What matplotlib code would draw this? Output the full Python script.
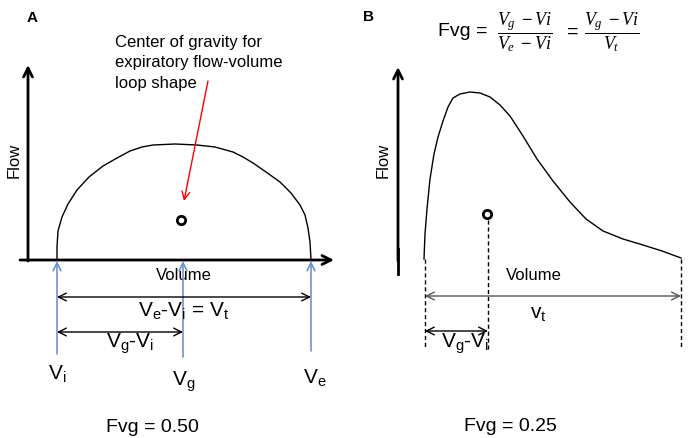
import matplotlib.pyplot as plt

plt.rcParams['font.family'] = ['Liberation Sans', 'DejaVu Sans']
plt.rcParams['mathtext.fontset'] = 'custom'
plt.rcParams['mathtext.rm'] = 'Liberation Sans'
plt.rcParams['mathtext.it'] = 'Liberation Serif:italic'

# loop outlines (pixel space)
loop_a_x = [57, 57, 58, 62, 68, 77, 89, 103, 117, 130, 142, 153, 175, 197, 215, 233, 243, 253, 266, 280, 291, 300, 305, 308, 310, 311]
loop_a_y = [261, 248, 232, 218, 205, 191, 178, 167, 159, 152, 148, 146, 145, 146, 148, 153, 158, 164, 173, 183, 194, 206, 216, 229, 243, 261]
loop_b_x = [424, 425, 427, 430, 434, 438, 443, 448, 453, 460, 470, 480, 490, 500, 510, 523, 537, 553, 570, 586, 603, 623, 643, 662, 681]
loop_b_y = [260, 235, 210, 180, 155, 138, 122, 108, 99, 95, 93, 94, 98, 106, 117, 137, 160, 182, 203, 220, 232, 240, 246, 252, 259]

# volume markers
vol_a = {'Vi': 57, 'Vg': 183, 'Ve': 311}
cog_a = (181, 221)
vol_b = {'Vi': 425, 'Vg': 488, 'Ve': 681}
cog_b = (487, 215)

fvg_a = 0.50
fvg_b = 0.25

blue = '#6a95d0'
fs = 12

fig = plt.figure(figsize=(6.98, 4.39), dpi=100)
ax = fig.add_axes([0, 0, 1, 1])
ax.set_xlim(0, 698)
ax.set_ylim(439, 0)
ax.axis('off')


def arrow(x0, y0, x1, y1, style='->', color='black', lw=1.0, ls='-', ms=12):
    ax.annotate('', xy=(x1, y1), xytext=(x0, y0),
                arrowprops=dict(arrowstyle=style, color=color, lw=lw, ls=ls,
                                shrinkA=0, shrinkB=0, mutation_scale=ms))


def sub(base, s):
    return base + r'$_\mathregular{' + s + '}$'


# ---- panel A ----
ax.text(32, 18, 'A', fontsize=11, fontweight='bold', ha='center', va='center')
arrow(28, 262, 28, 66, lw=2, ms=16)
arrow(20, 261, 334, 261, lw=2, ms=16)
ax.plot(loop_a_x, loop_a_y, color='black', lw=1)
ax.plot(*cog_a, 'o', mfc='white', mec='black', ms=6, mew=2)
ax.text(14, 160, 'Flow', fontsize=fs, rotation=90, ha='center', va='center')
ax.text(184, 276, 'Volume', fontsize=fs, ha='center', va='center')
ax.text(115, 35, 'Center of gravity for\nexpiratory flow-volume\nloop shape',
        fontsize=fs, ha='left', va='top', linespacing=1.45)
arrow(208, 82, 184, 202, color='red', lw=1, ms=14)

for name, x in vol_a.items():
    arrow(x, {'Vi': 355, 'Vg': 358, 'Ve': 352}[name], x, 262, color=blue, lw=1.2, ms=14)
arrow(57, 298, 311, 298, style='<->', lw=1, ms=14)
arrow(57, 333, 183, 333, style='<->', lw=1, ms=14)
ax.text(184, 311, sub('V', 'e') + '-' + sub('V', 'i') + ' = ' + sub('V', 't'), fontsize=15, ha='center', va='center')
ax.text(130, 344, sub('V', 'g') + '-' + sub('V', 'i'), fontsize=15, ha='center', va='center')
ax.text(57, 374, sub('V', 'i'), fontsize=15, ha='center', va='center')
ax.text(184, 382, sub('V', 'g'), fontsize=15, ha='center', va='center')
ax.text(315, 378, sub('V', 'e'), fontsize=15, ha='center', va='center')
ax.text(152, 428, f'Fvg = {fvg_a:.2f}', fontsize=14, ha='center', va='center')

# ---- panel B ----
ax.text(368, 17, 'B', fontsize=11, fontweight='bold', ha='center', va='center')
ax.plot([398, 398], [275, 250], color='black', lw=2)
arrow(398, 262, 398, 68, lw=2, ms=16)
arrow(398, 260, 702, 260, lw=2, ms=16)
ax.plot(loop_b_x, loop_b_y, color='black', lw=1)
ax.plot([vol_b['Vg']] * 2, [cog_b[1] + 6, 350], color='black', lw=1, ls=(0, (3, 2)))
ax.plot(*cog_b, 'o', mfc='white', mec='black', ms=6, mew=2)
for key in ('Vi', 'Ve'):
    ax.plot([vol_b[key]] * 2, [260, 350], color='black', lw=1, ls=(0, (3, 2)))
ax.text(383, 160, 'Flow', fontsize=fs, rotation=90, ha='center', va='center')
ax.text(534, 276, 'Volume', fontsize=fs, ha='center', va='center')
arrow(vol_b['Vi'], 297, vol_b['Ve'], 297, style='<->', color='#555555', lw=1, ms=14)
arrow(vol_b['Vi'], 332, vol_b['Vg'], 332, style='<->', lw=1, ms=14)
ax.text(538, 314, sub('v', 't'), fontsize=15, ha='center', va='center')
ax.text(465, 344, sub('V', 'g') + '-' + sub('V', 'i'), fontsize=15, ha='center', va='center')
ax.text(510, 427, f'Fvg = {fvg_b:.2f}', fontsize=14, ha='center', va='center')

# formula
ax.text(438, 32, 'Fvg =', fontsize=14, ha='left', va='center')
ax.text(525, 32, r'$\dfrac{V_g\ -Vi}{V_e\ -Vi}$', fontsize=13, ha='center', va='center')
ax.text(573, 32, '=', fontsize=14, ha='center', va='center')
ax.text(612, 32, r'$\dfrac{V_g\ -Vi}{V_t}$', fontsize=13, ha='center', va='center')

fig.savefig('out.png', dpi=100)
